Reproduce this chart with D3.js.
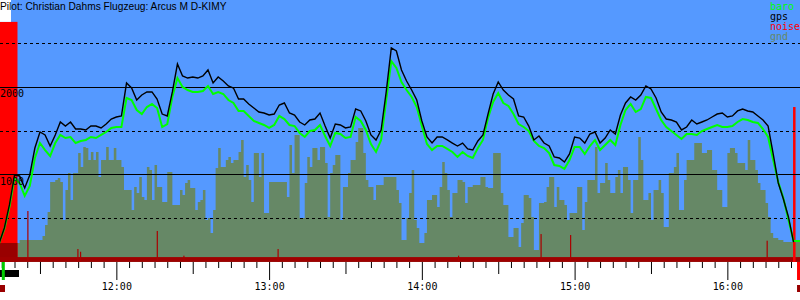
<!DOCTYPE html>
<html>
<head>
<meta charset="UTF-8">
<script src="https://cdn.jsdelivr.net/npm/d3@7"></script>
<style>
body{
    margin:0;
    background-color:#fff;
}
svg{ display:block; }
.mono{ font-family:"DejaVu Sans Mono", monospace; font-size:10px; }
</style>
</head>
<body>
<script>

var title = "Pilot: Christian Dahms Flugzeug: Arcus M D-KIMY";
var viewStart = "11:14:18", viewEnd = "16:28:32";

// gps / baro altitude (m), one fix every 2 minutes from 11:14
var fixStart = "11:14:00";
var gps = [216,387,650,992,981,844,992,1300,1483,1449,
    1323,1449,1597,1551,1597,1517,1517,1506,1551,1551,
    1529,1574,1631,1654,1666,2042,1985,1848,1905,1940,
    1940,1860,1688,1666,1940,2259,2122,2099,2111,2099,
    2122,2191,2042,2111,2065,2008,1985,1860,1860,1803,
    1757,1711,1700,1677,1688,1791,1814,1700,1677,1597,
    1563,1620,1631,1700,1551,1414,1574,1563,1529,1540,
    1745,1723,1609,1449,1392,1506,1940,2442,2408,2191,
    2065,1962,1848,1609,1426,1357,1426,1426,1392,1357,
    1323,1357,1289,1277,1380,1449,1688,1917,2054,1962,
    1905,1860,1666,1654,1551,1392,1437,1357,1323,1198,
    1186,1140,1232,1426,1414,1357,1460,1483,1357,1414,
    1506,1460,1677,1814,1883,1848,1905,2008,1974,1871,
    1711,1631,1620,1597,1506,1540,1620,1574,1597,1620,
    1654,1688,1700,1654,1666,1723,1745,1723,1711,1666,
    1620,1551,1232,901,718,513,227,null,null];
var baro = [216,376,627,958,901,753,867,1186,1357,1277,
    1209,1357,1449,1414,1426,1357,1380,1392,1426,1414,
    1449,1483,1529,1540,1540,1871,1848,1734,1688,1768,
    1803,1757,1540,1574,1883,2099,1997,1962,1940,1940,
    1951,2008,1917,1940,1917,1848,1814,1723,1723,1666,
    1609,1586,1563,1529,1563,1666,1631,1563,1551,1472,
    1426,1494,1506,1563,1437,1323,1472,1460,1414,1426,
    1654,1609,1506,1346,1255,1392,1848,2292,2214,2054,
    1962,1883,1768,1551,1346,1277,1323,1323,1289,1255,
    1198,1255,1209,1186,1300,1392,1643,1826,1928,1814,
    1780,1688,1574,1540,1494,1380,1323,1300,1243,1106,
    1095,1061,1163,1312,1312,1232,1323,1392,1277,1335,
    1392,1335,1563,1734,1803,1711,1745,1883,1871,1745,
    1620,1540,1494,1449,1403,1460,1460,1449,1494,1517,
    1540,1563,1540,1540,1551,1597,1631,1620,1597,1586,
    1517,1426,1163,912,730,479,238,238,238];

// ground elevation (m), one value per minute from 11:14
var gndStart = "11:14:00";
var gnd = [216,216,216,216,216,216,216,216,250,250,
    250,250,250,250,250,250,250,296,421,570,
    911,911,935,958,911,478,821,1015,707,1015,
    1015,1243,1083,1312,1300,1163,1255,1163,1255,969,
    1163,1163,1312,1163,1163,1300,1163,1163,1083,821,
    821,821,592,855,787,969,741,707,1083,1049,
    707,1106,855,855,684,684,1026,1026,650,650,
    650,821,764,901,935,844,844,592,684,707,
    821,478,501,330,592,1072,1300,1083,1083,1163,
    1198,1129,1163,1163,1255,1392,969,1106,935,684,
    1243,1243,969,1243,558,558,912,912,912,912,
    912,912,912,741,1335,1015,1449,1449,501,501,
    901,1198,1083,1300,1300,1163,1312,1312,1129,513,
    1015,1106,1220,1220,478,855,855,1015,1163,1163,
    1369,1529,1529,1243,935,855,855,707,878,878,
    878,969,969,969,969,969,821,672,250,250,
    501,787,1049,478,387,216,216,330,707,707,
    764,764,627,855,1140,1015,821,513,787,787,
    935,935,912,672,855,855,878,878,878,969,
    969,855,844,844,1243,1243,1243,787,650,650,
    284,284,387,387,170,444,764,764,729,513,
    136,136,672,672,684,855,969,969,627,855,
    707,707,650,478,558,558,558,855,855,364,
    684,935,935,935,1312,787,901,901,1129,935,
    787,787,969,1049,787,1083,1083,935,558,935,
    935,1426,1163,707,707,787,478,821,821,935,
    787,398,398,1015,1015,1083,1243,592,592,935,
    1163,1163,1163,1357,1357,1357,1243,1243,1277,1277,
    1049,1049,821,821,627,627,1243,1300,1300,1243,
    1129,1129,1129,1049,1392,1163,1163,1049,901,821,
    821,672,513,330,273,273,250,250,227,227,
    227,227,227,227,227,227,227];

// engine noise
var noiseBase = 55;
var noiseTimes  = ["11:25:01","11:44:40","11:45:43","12:15:51","12:26:18","13:03:18","14:14:12","14:46:36","14:58:12","16:15:24","16:25:48"];
var noiseLevels = [581,147,116,353,71,147,71,318,307,242,1768];
var engineRuns = [["11:14:18","11:21:10",2740]];

var altSolid = [1000, 2000];
var altDashed = [500, 1500, 2500];
var legend = [["baro","#00ff00"],["gps","#000000"],["noise","#ff0000"],["gnd","#668866"]];

// bottom strip markers
var takeoff = "11:15:36", landing = "16:27:22";
var engineBar = ["11:14:18","11:21:46"];

var width = 800, height = 300, plotBottom = 262;
var parseTime = d3.timeParse("%H:%M:%S");

var x = d3.scaleTime().domain([parseTime(viewStart), parseTime(viewEnd)]).range([0, width]);
var y = d3.scaleLinear().domain([0, 3000]).range([261.9, -0.9]);

var t0 = parseTime(fixStart), g0 = parseTime(gndStart);
var fixes = gps.map(function(d, i){ return {t: d3.timeMinute.offset(t0, 2*i), gps: d, baro: baro[i]}; });
var ground = gnd.map(function(d, i){ return {t: d3.timeMinute.offset(g0, i), alt: d}; });

var svg = d3.select("body").append("svg")
    .attr("width", width)
    .attr("height", height);

var defs = svg.append("defs");
defs.append("clipPath").attr("id","plot")
    .append("rect").attr("x",0).attr("y",0).attr("width",width).attr("height",plotBottom);

svg.append("rect")
    .attr("x",0).attr("y",0).attr("width",width).attr("height",plotBottom)
    .attr("fill","#5599ff");

var plot = svg.append("g").attr("clip-path","url(#plot)");

plot.append("path")
    .datum(ground)
    .attr("fill","#668866")
    .attr("d", d3.area().curve(d3.curveStepAfter)
        .x(function(d){ return x(d.t); })
        .y0(y(0))
        .y1(function(d){ return y(d.alt); }));

// engine run (noise at full level)
engineRuns.forEach(function(r){
    var xa = x(parseTime(r[0])), xb = x(parseTime(r[1]));
    plot.append("rect")
        .attr("x", xa).attr("width", xb - xa)
        .attr("y", y(r[2])).attr("height", y(0) - y(r[2]))
        .attr("fill","#ff0000");
    plot.append("rect")
        .attr("x", xa).attr("width", xb - xa)
        .attr("y", y(gnd[0])).attr("height", y(0) - y(gnd[0]))
        .attr("fill","#990000");
});

// white patch above the engine bar
svg.append("rect")
    .attr("x",0).attr("y",0)
    .attr("width", x(parseTime("11:18:37")))
    .attr("height", y(r0 = 2740))
    .attr("fill","#fff");

plot.append("rect")
    .attr("x",0).attr("width",width)
    .attr("y", y(noiseBase)).attr("height", y(0) - y(noiseBase))
    .attr("fill","#a00000");

plot.selectAll(".spike")
    .data(noiseTimes)
    .enter().append("rect")
    .attr("x", function(d){ return x(parseTime(d)); })
    .attr("width", function(d, i){ return noiseLevels[i] > 1000 ? 2.5 : 1.2; })
    .attr("y", function(d, i){ return y(noiseLevels[i]); })
    .attr("height", function(d, i){ return y(0) - y(noiseLevels[i]); })
    .attr("fill", function(d, i){ return noiseLevels[i] > 1000 ? "#ff0000" : "#aa0000"; });

// altitude grid
plot.selectAll(".solid")
    .data(altSolid)
    .enter().append("line")
    .attr("x1",0).attr("x2",width)
    .attr("y1", function(d){ return Math.round(y(d)) + 0.5; })
    .attr("y2", function(d){ return Math.round(y(d)) + 0.5; })
    .attr("stroke","#000").attr("stroke-width",1);

plot.selectAll(".dashed")
    .data(altDashed)
    .enter().append("line")
    .attr("x1",0).attr("x2",width)
    .attr("y1", function(d){ return Math.round(y(d)) + 0.5; })
    .attr("y2", function(d){ return Math.round(y(d)) + 0.5; })
    .attr("stroke","#000").attr("stroke-width",1)
    .attr("stroke-dasharray","3,3");

plot.append("path")
    .datum(fixes)
    .attr("fill","none")
    .attr("stroke","#00ff00")
    .attr("stroke-width",2)
    .attr("d", d3.line()
        .defined(function(d){ return d.baro != null; })
        .x(function(d){ return x(d.t); })
        .y(function(d){ return y(d.baro); }));

plot.append("path")
    .datum(fixes)
    .attr("fill","none")
    .attr("stroke","#000")
    .attr("stroke-width",1.4)
    .attr("d", d3.line()
        .defined(function(d){ return d.gps != null; })
        .x(function(d){ return x(d.t); })
        .y(function(d){ return y(d.gps); }));

svg.selectAll(".altlabel")
    .data(altSolid)
    .enter().append("text")
    .attr("class","mono")
    .attr("x",0)
    .attr("y", function(d){ return y(d) + 10.5; })
    .attr("fill","#000")
    .text(function(d){ return d; });

svg.selectAll(".legend")
    .data(legend)
    .enter().append("text")
    .attr("class","mono")
    .attr("x",770)
    .attr("y", function(d, i){ return 10 + i*10; })
    .attr("fill", function(d){ return d[1]; })
    .text(function(d){ return d[0]; });

svg.append("text")
    .attr("x",0)
    .attr("y",9.5)
    .attr("font-family","'Liberation Sans', Arial, sans-serif")
    .attr("font-size",10.2)
    .attr("fill","#000")
    .text(title);

// time axis
var ticks = d3.timeMinute.every(5).range(x.domain()[0], x.domain()[1]);
var xAxis = d3.axisBottom(x)
    .tickValues(ticks)
    .tickSize(6)
    .tickPadding(4)
    .tickFormat(function(d){ return d.getMinutes() === 0 ? d3.timeFormat("%H:%M")(d) : ""; });

var gX = svg.append("g")
    .attr("transform","translate(0," + plotBottom + ")")
    .call(xAxis);
gX.select(".domain").remove();
gX.selectAll(".tick line")
    .attr("stroke","#000")
    .attr("y2", function(d){ var m = d.getMinutes(); return m === 0 ? 18 : (m === 30 ? 12 : 6); });
gX.selectAll(".tick text")
    .attr("y", 21)
    .attr("dy","0.71em")
    .attr("fill","#000")
    .attr("font-family","'DejaVu Sans Mono', monospace")
    .attr("font-size",10);

// event markers under the axis
var xe0 = x(parseTime(engineBar[0])), xe1 = x(parseTime(engineBar[1]));
svg.append("rect").attr("x",xe0).attr("y",270).attr("width",xe1 - xe0).attr("height",7).attr("fill","#000");
svg.append("rect").attr("x",x(parseTime(takeoff)) - 1.5).attr("y",262).attr("width",3).attr("height",18).attr("fill","#00cc00");
svg.append("rect").attr("x",0).attr("y",285).attr("width",5).attr("height",7).attr("fill","#990000");
svg.append("rect").attr("x",x(parseTime(landing))).attr("y",262).attr("width",3).attr("height",18).attr("fill","#ff0000");
svg.append("rect").attr("x",x(parseTime(landing))).attr("y",285).attr("width",3).attr("height",7).attr("fill","#990000");

</script>
</body>
</html>
